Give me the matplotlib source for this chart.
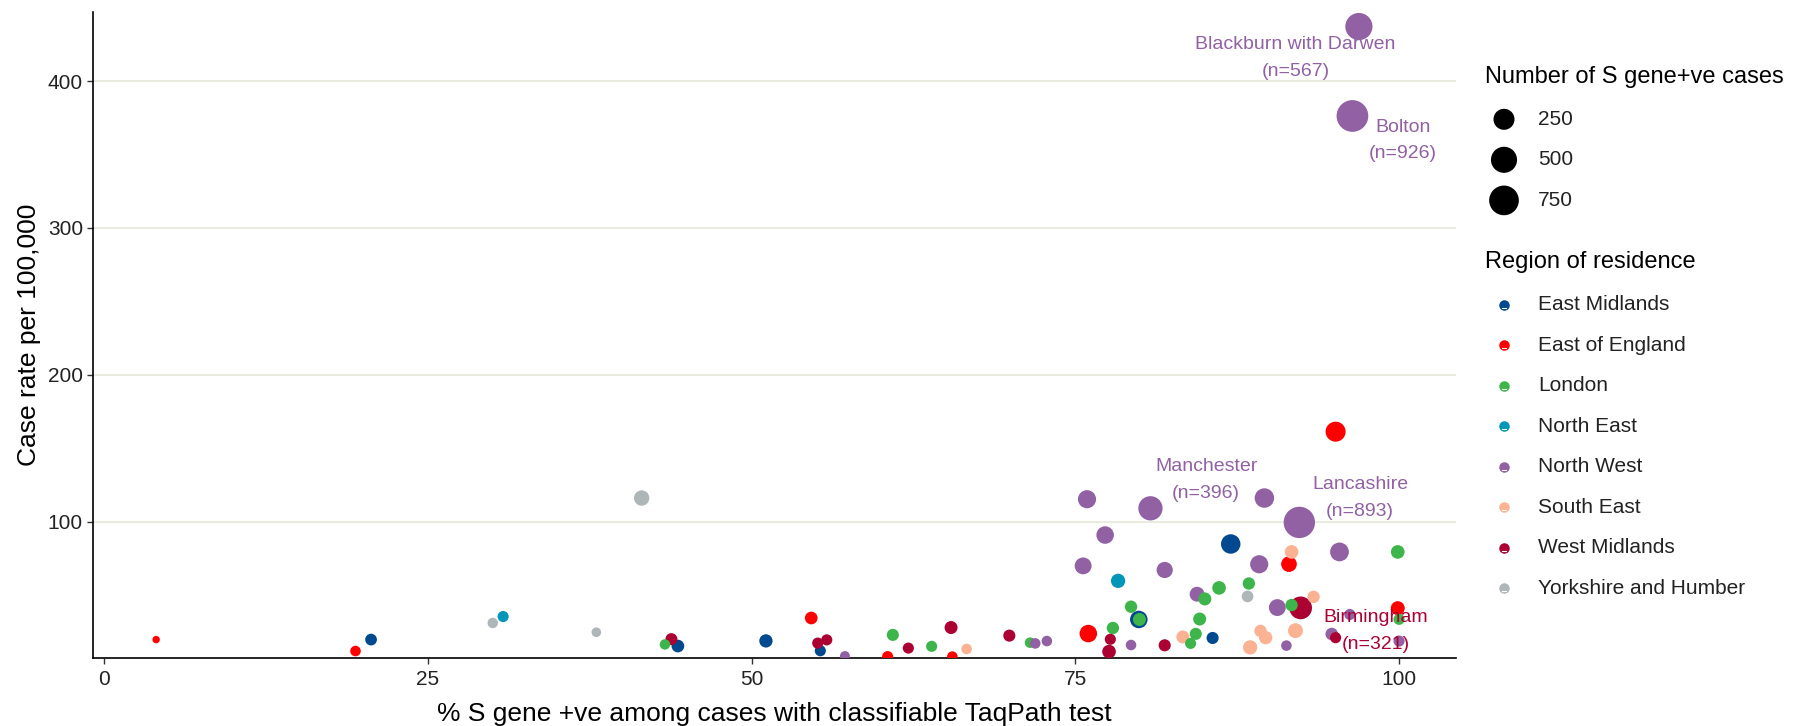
import matplotlib
matplotlib.use("Agg")
import matplotlib.pyplot as plt
import numpy as np

plt.rcParams["font.family"] = ["Liberation Sans", "DejaVu Sans"]

# ---- data: (% S gene +ve, case rate per 100,000, number of S gene +ve cases) ----
regions = ["East Midlands", "East of England", "London", "North East",
           "North West", "South East", "West Midlands", "Yorkshire and Humber"]
region_colors = ["#00498F", "#FF0000", "#3DB54A", "#0096B8",
                 "#9161A3", "#FBB292", "#AC0033", "#AFB6B8"]

em_pct = [20.6, 44.3, 51.1, 55.3, 79.9, 85.6, 87.0]
em_rate = [19.6, 15.2, 18.7, 12.0, 33.3, 20.7, 84.7]
em_n = [36, 47, 55, 30, 138, 40, 195]

ee_pct = [4.0, 19.4, 54.6, 60.5, 65.5, 76.0, 91.5, 95.1, 99.9]
ee_rate = [19.6, 11.8, 34.3, 8.0, 8.0, 23.7, 71.0, 161.2, 41.0]
ee_n = [7, 25, 47, 30, 25, 138, 95, 214, 65]

ldn_pct = [43.3, 60.9, 63.9, 71.5, 77.9, 79.3, 79.95, 83.9, 84.3, 84.6,
           85.0, 86.1, 88.4, 91.7, 99.9, 100.0]
ldn_rate = [16.3, 22.8, 15.0, 17.5, 27.5, 42.0, 33.3, 17.0, 23.5, 33.6,
            47.3, 54.8, 57.8, 43.1, 79.3, 33.4]
ldn_n = [24, 40, 30, 25, 43, 43, 51, 30, 40, 51, 51, 60, 43, 43, 60, 30]

ne_pct = [30.8, 78.3]
ne_rate = [35.3, 59.6]
ne_n = [30, 70]

nw_pct = [57.2, 71.9, 72.8, 75.6, 75.9, 77.3, 79.3, 80.8, 81.9, 84.4, 89.2,
          89.6, 90.6, 91.3, 92.3, 94.8, 95.4, 96.2, 96.4, 96.9, 100.0]
nw_rate = [8.4, 17.0, 18.6, 69.8, 115.2, 90.8, 15.9, 109.0, 67.0, 50.5, 70.9,
           116.0, 41.4, 15.5, 99.4, 23.4, 79.3, 36.7, 376.2, 437.1, 18.6]
nw_n = [20, 25, 25, 122, 154, 138, 25, 396, 107, 80, 155,
        195, 122, 25, 893, 45, 173, 30, 926, 567, 30]

se_pct = [66.6, 83.3, 88.5, 89.3, 89.7, 91.7, 92.0, 93.4]
se_rate = [13.2, 21.4, 14.3, 25.5, 20.9, 79.3, 25.7, 48.7]
se_n = [25, 50, 70, 43, 55, 60, 80, 43]

wm_pct = [43.8, 55.1, 55.8, 62.1, 65.4, 69.9, 77.7, 77.6, 81.9, 92.4, 95.1]
wm_rate = [19.9, 17.2, 19.4, 13.8, 27.8, 22.3, 19.8, 11.4, 15.7, 41.2, 20.9]
wm_n = [39, 30, 30, 30, 51, 40, 30, 60, 40, 321, 30]

yh_pct = [30.0, 38.0, 41.5, 88.3]
yh_rate = [30.9, 24.6, 116.0, 49.0]
yh_n = [24, 18, 90, 36]

series = [(em_pct, em_rate, em_n), (ee_pct, ee_rate, ee_n),
          (ldn_pct, ldn_rate, ldn_n), (ne_pct, ne_rate, ne_n),
          (nw_pct, nw_rate, nw_n), (se_pct, se_rate, se_n),
          (wm_pct, wm_rate, wm_n), (yh_pct, yh_rate, yh_n)]

# labelled areas: name, region index, n, label position
labelled = [
    ("Blackburn with Darwen", 4, 567, 92.0, 415.5),
    ("Bolton", 4, 926, 100.3, 359.5),
    ("Manchester", 4, 396, 85.1, 128.5),
    ("Lancashire", 4, 893, 97.0, 116.0),
    ("Birmingham", 6, 321, 98.2, 25.5),
]

size_breaks = [250, 500, 750]

DPI = 100


def marker_area(n):
    """Marker area (pt^2) for a case count; diameter grows with cube root."""
    d_px = 3.1 * np.asarray(n, dtype=float) ** (1 / 3) + 1.5
    d_pt = d_px * 72.0 / DPI
    return d_pt ** 2


fig = plt.figure(figsize=(18.16, 7.26), dpi=DPI)
W, H = 1816, 726
left_px, right_px, top_px, bottom_px = 92.7, 1456, 12, 657.5
ax = fig.add_axes([left_px / W, (H - bottom_px) / H,
                   (right_px - left_px) / W, (bottom_px - top_px) / H])

# gather all points then draw the big ones first so small ones sit on top
xs, ys, ns, cs = [], [], [], []
for (px_, ry_, nn_), col in zip(series, region_colors):
    xs += list(px_)
    ys += list(ry_)
    ns += list(nn_)
    cs += [col] * len(px_)
order = np.argsort(-np.array(ns), kind="stable")
ax.scatter(np.array(xs)[order], np.array(ys)[order],
           s=marker_area(np.array(ns)[order]),
           c=[cs[i] for i in order], linewidths=0, zorder=3)

for name, ri, nn_, lx, ly in labelled:
    ax.text(lx, ly, f"{name}\n(n={nn_})", color=region_colors[ri],
            fontsize=14, ha="center", va="center", multialignment="center",
            linespacing=1.75, zorder=4)

ax.set_xlim(-0.9, 104.4)
ax.set_ylim(7.4, 447)
ax.set_xticks([0, 25, 50, 75, 100])
ax.set_yticks([100, 200, 300, 400])
ax.grid(axis="y", color="#EAECDF", linewidth=1.5, zorder=0)
ax.set_axisbelow(True)
for side in ("top", "right"):
    ax.spines[side].set_visible(False)
for side in ("left", "bottom"):
    ax.spines[side].set_linewidth(1.2)
    ax.spines[side].set_color("black")
ax.tick_params(axis="both", length=4, width=1.0, color="#333333",
               labelsize=15, labelcolor="#222222")
ax.tick_params(axis="x", pad=5)
ax.tick_params(axis="y", pad=3)
ax.set_xlabel("% S gene +ve among cases with classifiable TaqPath test",
              fontsize=19, color="black", labelpad=9)
ax.set_ylabel("Case rate per 100,000", fontsize=19, color="black", labelpad=5)

# ---- legends drawn on an overlay in pixel units ----
lg = fig.add_axes([0, 0, 1, 1], zorder=5)
lg.set_xlim(0, W)
lg.set_ylim(H, 0)
lg.axis("off")

lg.text(1485, 76.5, "Number of S gene+ve cases", fontsize=17, va="center",
        ha="left", color="black")
size_y = [119.3, 159.8, 200.4]
lg.scatter([1504] * 3, size_y, s=marker_area(size_breaks), c="black",
           linewidths=0)
for yy, b in zip(size_y, size_breaks):
    lg.text(1538, yy, str(b), fontsize=15, va="center", ha="left",
            color="#222222")

lg.text(1485, 262, "Region of residence", fontsize=17, va="center",
        ha="left", color="black")
for i, (r, col) in enumerate(zip(regions, region_colors)):
    yy = 304.6 + i * 40.5
    lg.scatter([1504], [yy], s=(10.5 * 0.72) ** 2, c=col, linewidths=0,
               marker="o")
    lg.plot([1502, 1506], [yy + 3.2, yy + 3.2], color="white", lw=0.8)
    lg.text(1538, yy, r, fontsize=15, va="center", ha="left",
            color="#222222")

fig.savefig("out.png", dpi=DPI, facecolor="white")
